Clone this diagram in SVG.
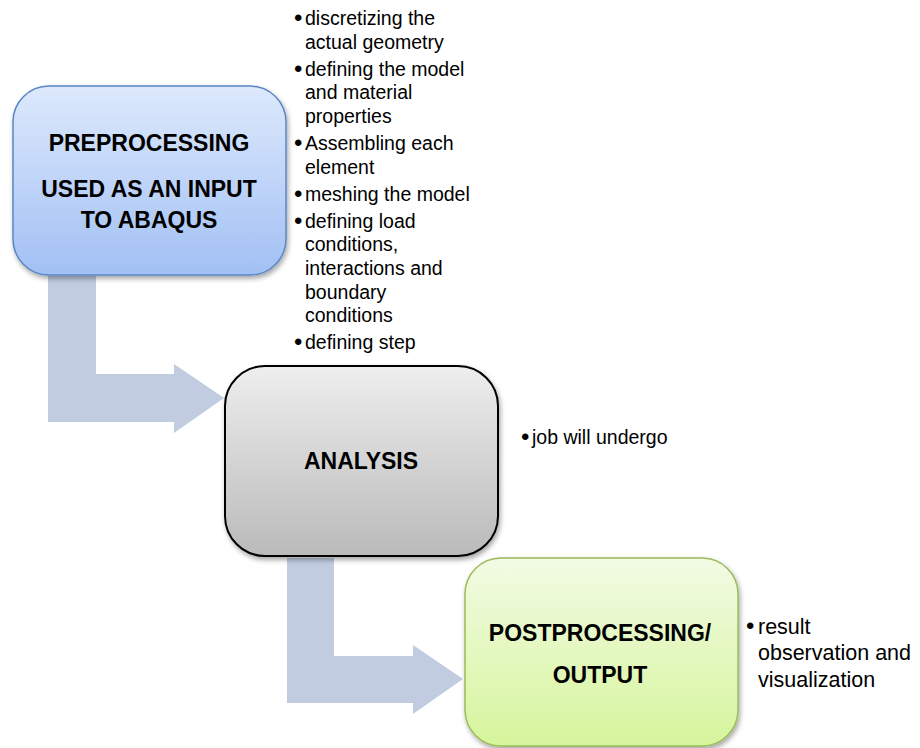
<svg xmlns="http://www.w3.org/2000/svg" width="920" height="748" viewBox="0 0 920 748">
<defs>
<linearGradient id="gBlue" x1="0" y1="0" x2="0" y2="1"><stop offset="0" stop-color="#dde9fc"/><stop offset="1" stop-color="#a2c0f4"/></linearGradient>
<linearGradient id="gGray" x1="0" y1="0" x2="0" y2="1"><stop offset="0" stop-color="#eeeeee"/><stop offset="1" stop-color="#bababa"/></linearGradient>
<linearGradient id="gGreen" x1="0" y1="0" x2="0" y2="1"><stop offset="0" stop-color="#f2fbe4"/><stop offset="1" stop-color="#d6f59c"/></linearGradient>
<filter id="sh" x="-10%" y="-10%" width="125%" height="125%"><feDropShadow dx="1.5" dy="3" stdDeviation="2.5" flood-color="#000" flood-opacity="0.35"/></filter>
<style>
.title{font-family:"Liberation Sans",Arial,sans-serif;font-weight:bold;font-size:23px;fill:#000;text-anchor:middle}
.note{font-family:"Liberation Sans",Arial,sans-serif;font-size:19.5px;fill:#000}
.note2{font-family:"Liberation Sans",Arial,sans-serif;font-size:21.5px;fill:#000}
.b{font-size:24px}
.arrow{fill:#c1cce0}
</style>
</defs>
<rect width="920" height="748" fill="#fff"/>
<g id="connectors">
<polygon class="arrow" points="48,276 96,276 96,374 174,374 174,364 224,398 174,433 174,422 48,422"/>
<polygon class="arrow" points="287,558 334,558 334,656 413,656 413,645 463,679 413,714 413,703 287,703"/>
</g>
<g id="preprocessing">
<rect x="13" y="86" width="273" height="189" rx="36" ry="36" fill="url(#gBlue)" stroke="#5a86c6" stroke-width="1.5" filter="url(#sh)"/>
<text class="title" x="149" y="151">PREPROCESSING</text>
<text class="title" x="149" y="197">USED AS AN INPUT</text>
<text class="title" x="149" y="228">TO ABAQUS</text>
</g>
<g id="preprocessing-notes" class="note">
<text class="b" x="294" y="26">•</text><text x="305" y="25">discretizing the</text>
<text x="305" y="48.6">actual geometry</text>
<text class="b" x="294" y="76.7">•</text><text x="305" y="75.7">defining the model</text>
<text x="305" y="99.3">and material</text>
<text x="305" y="122.9">properties</text>
<text class="b" x="294" y="151">•</text><text x="305" y="150">Assembling each</text>
<text x="305" y="173.6">element</text>
<text class="b" x="294" y="201.7">•</text><text x="305" y="200.7">meshing the model</text>
<text class="b" x="294" y="228.8">•</text><text x="305" y="227.8">defining load</text>
<text x="305" y="251.4">conditions,</text>
<text x="305" y="275">interactions and</text>
<text x="305" y="298.6">boundary</text>
<text x="305" y="322.2">conditions</text>
<text class="b" x="294" y="350.3">•</text><text x="305" y="349.3">defining step</text>
</g>
<g id="analysis">
<rect x="225" y="366" width="273" height="190" rx="40" ry="40" fill="url(#gGray)" stroke="#000" stroke-width="2" filter="url(#sh)"/>
<text class="title" x="361" y="469">ANALYSIS</text>
</g>
<g id="analysis-notes" class="note">
<text class="b" x="521" y="445">•</text><text x="532" y="444">job will undergo</text>
</g>
<g id="postprocessing">
<rect x="465" y="558" width="273" height="188" rx="36" ry="36" fill="url(#gGreen)" stroke="#9bbb59" stroke-width="1.5" filter="url(#sh)"/>
<text class="title" x="600" y="641">POSTPROCESSING/</text>
<text class="title" x="600" y="683">OUTPUT</text>
</g>
<g id="postprocessing-notes" class="note2">
<text class="b" x="746" y="634">•</text><text x="758" y="634">result</text>
<text x="758" y="660">observation and</text>
<text x="758" y="687">visualization</text>
</g>
</svg>
